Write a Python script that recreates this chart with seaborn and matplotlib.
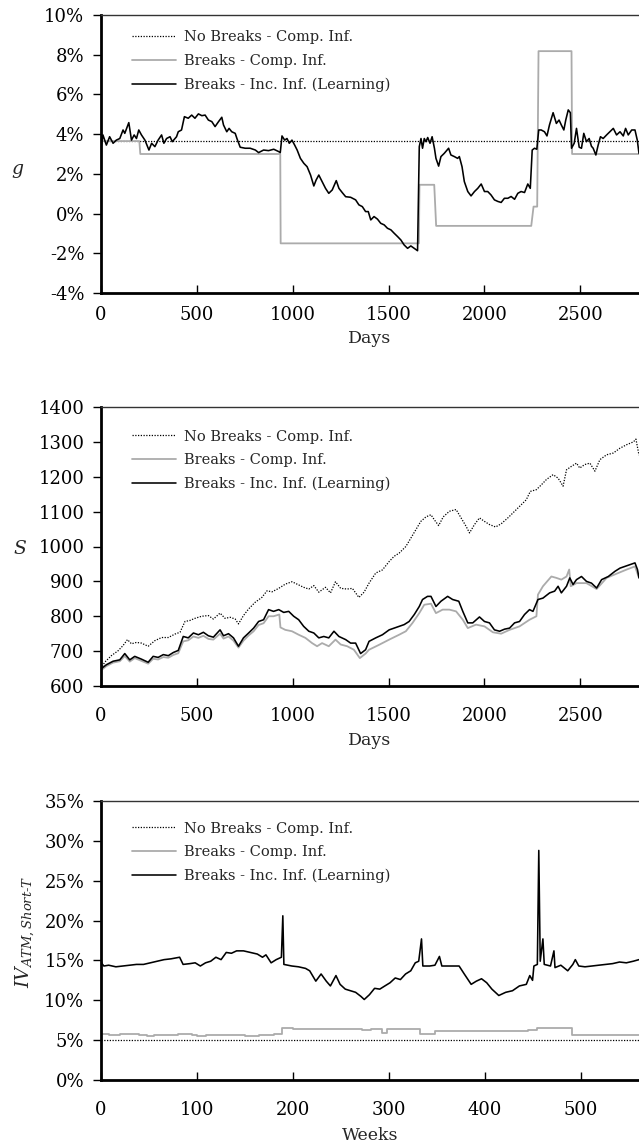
import numpy as np
import pandas as pd
import matplotlib
matplotlib.use("Agg")
import matplotlib.pyplot as plt
from matplotlib.ticker import FuncFormatter, FixedLocator
import seaborn as sns

# ---------------- data ----------------
legend_labels = ["No Breaks - Comp. Inf.", "Breaks - Comp. Inf.", "Breaks - Inc. Inf. (Learning)"]

# Panel 1: g (%)
g_nb_days = [0, 2806]
g_nb_vals = [3.65, 3.65]

g_cb_days = [0, 200, 205, 935, 937, 1658, 1661, 1738, 1748, 2244, 2256, 2275, 2282, 2454, 2457, 2806]
g_cb_vals = [3.65, 3.65, 3.0, 3.0, -1.5, -1.5, 1.45, 1.45, -0.62, -0.62, 0.35, 0.35, 8.18, 8.18, 3.0, 3.0]

g_ln_days = [0, 10, 28, 45, 63, 80, 98, 115, 124, 145, 159, 173, 185, 197, 211, 229, 250, 264, 281, 298,
             316, 328, 342, 360, 372, 394, 403, 420, 435, 455, 473, 490, 508, 526, 543, 560, 578, 595, 613, 630,
             639, 656, 668, 682, 700, 709, 726, 752, 778, 805, 822, 848, 874, 901, 927, 935, 944, 958, 970, 982,
             996, 1010, 1023, 1040, 1058, 1075, 1093, 1110, 1122, 1136, 1153, 1171, 1188, 1206, 1227, 1241, 1258, 1276, 1302, 1328,
             1345, 1363, 1380, 1394, 1407, 1424, 1442, 1459, 1477, 1494, 1512, 1529, 1547, 1564, 1581, 1599, 1616, 1634, 1651, 1660,
             1669, 1677, 1686, 1695, 1704, 1716, 1727, 1739, 1747, 1761, 1773, 1790, 1813, 1825, 1843, 1860, 1869, 1883, 1895, 1913,
             1930, 1948, 1965, 1983, 2000, 2017, 2034, 2052, 2070, 2087, 2104, 2122, 2139, 2157, 2174, 2191, 2209, 2226, 2239, 2249,
             2261, 2273, 2283, 2296, 2313, 2326, 2339, 2358, 2375, 2389, 2401, 2414, 2424, 2437, 2448, 2454, 2468, 2480, 2494, 2506,
             2518, 2532, 2546, 2558, 2567, 2581, 2593, 2605, 2619, 2637, 2654, 2672, 2689, 2707, 2724, 2736, 2750, 2768, 2785, 2797,
             2806]
g_ln_vals = [3.29, 3.96, 3.45, 3.87, 3.54, 3.70, 3.78, 4.21, 4.04, 4.58, 3.70, 3.96, 3.78, 4.21, 3.96, 3.70, 3.20, 3.54, 3.37, 3.70,
             3.96, 3.54, 3.78, 3.87, 3.62, 3.87, 4.12, 4.21, 4.88, 4.80, 4.96, 4.80, 5.02, 4.93, 4.96, 4.71, 4.63, 4.38, 4.63, 4.85,
             4.46, 4.12, 4.29, 4.12, 4.04, 3.78, 3.34, 3.29, 3.29, 3.20, 3.07, 3.20, 3.17, 3.24, 3.12, 3.07, 3.91, 3.70, 3.78, 3.54,
             3.70, 3.45, 3.20, 2.78, 2.53, 2.36, 1.94, 1.39, 1.69, 1.94, 1.61, 1.27, 1.02, 1.19, 1.66, 1.27, 1.06, 0.85, 0.82, 0.69,
             0.44, 0.35, 0.10, 0.10, -0.32, -0.15, -0.28, -0.49, -0.57, -0.74, -0.82, -0.99, -1.16, -1.33, -1.58, -1.75, -1.63, -1.75, -1.87, 3.37,
             3.78, 3.29, 3.78, 3.62, 3.83, 3.54, 3.87, 3.29, 2.78, 2.39, 2.87, 3.03, 3.29, 2.95, 2.87, 2.78, 2.87, 2.36, 1.61, 1.11,
             0.89, 1.11, 1.27, 1.49, 1.11, 1.11, 0.94, 0.69, 0.61, 0.56, 0.77, 0.77, 0.86, 0.72, 1.02, 1.11, 1.06, 1.49, 1.27, 3.20,
             3.29, 3.24, 4.21, 4.21, 4.12, 3.91, 4.46, 5.08, 4.54, 4.71, 4.46, 4.21, 4.71, 5.22, 5.08, 3.29, 3.54, 4.29, 3.34, 3.29,
             4.04, 3.62, 3.78, 3.39, 3.29, 2.95, 3.45, 3.87, 3.78, 3.96, 4.12, 4.29, 3.96, 4.12, 3.91, 4.29, 3.96, 4.21, 4.21, 3.70,
             3.03]

# Panel 2: S
s_nb_days = [0, 19, 54, 89, 115, 138, 159, 185, 211, 246, 281, 316, 351, 386, 412, 438, 464, 490, 525, 560,
             586, 621, 647, 674, 700, 717, 743, 770, 804, 839, 866, 892, 927, 961, 996, 1023, 1057, 1084, 1110, 1136,
             1171, 1197, 1223, 1250, 1284, 1311, 1345, 1372, 1398, 1433, 1468, 1503, 1529, 1555, 1590, 1616, 1642, 1668, 1695, 1721,
             1738, 1761, 1785, 1817, 1852, 1878, 1904, 1922, 1948, 1974, 2000, 2026, 2058, 2087, 2122, 2148, 2183, 2218, 2239, 2271,
             2297, 2323, 2358, 2384, 2410, 2428, 2454, 2480, 2497, 2523, 2550, 2576, 2602, 2637, 2672, 2707, 2742, 2777, 2790, 2806]
s_nb_vals = [649, 668, 687, 701, 716, 733, 721, 725, 723, 714, 730, 739, 739, 749, 754, 785, 788, 794, 800, 802,
             792, 809, 794, 797, 792, 778, 802, 821, 840, 854, 873, 870, 880, 892, 899, 892, 883, 878, 888, 869,
             883, 867, 899, 880, 878, 880, 854, 869, 895, 924, 933, 957, 972, 981, 1000, 1024, 1048, 1072, 1085, 1091,
             1077, 1060, 1085, 1101, 1106, 1082, 1058, 1039, 1063, 1082, 1072, 1063, 1056, 1065, 1082, 1096, 1115, 1134, 1158, 1163,
             1177, 1192, 1206, 1196, 1173, 1220, 1230, 1239, 1225, 1235, 1239, 1216, 1249, 1263, 1268, 1282, 1292, 1300, 1308, 1262]

s_cb_days = [0, 28, 63, 98, 124, 150, 176, 211, 246, 272, 298, 325, 351, 377, 403, 429, 455, 482, 508, 534,
             560, 586, 621, 639, 665, 691, 717, 743, 770, 796, 822, 848, 874, 900, 930, 936, 961, 996, 1031, 1066,
             1101, 1127, 1153, 1188, 1223, 1250, 1284, 1319, 1350, 1380, 1398, 1450, 1503, 1555, 1590, 1625, 1660, 1686, 1721, 1747,
             1782, 1817, 1852, 1887, 1913, 1956, 2000, 2044, 2087, 2131, 2183, 2235, 2271, 2279, 2305, 2349, 2375, 2401, 2428, 2442,
             2450, 2480, 2532, 2585, 2637, 2689, 2742, 2785, 2806]
s_cb_vals = [645, 657, 667, 671, 686, 670, 680, 672, 664, 678, 676, 683, 681, 689, 694, 728, 731, 742, 738, 744,
             735, 733, 750, 736, 742, 730, 710, 730, 745, 757, 775, 780, 800, 800, 805, 768, 761, 757, 747, 738,
             723, 714, 723, 714, 733, 719, 714, 704, 680, 693, 704, 718, 733, 747, 757, 781, 809, 833, 836, 809,
             819, 819, 814, 790, 766, 776, 771, 754, 750, 761, 771, 790, 800, 862, 886, 914, 910, 905, 914, 934,
             886, 895, 895, 878, 910, 922, 934, 943, 910]

s_ln_days = [0, 28, 63, 98, 124, 150, 176, 211, 246, 272, 298, 325, 351, 377, 403, 429, 455, 482, 508, 534,
             560, 586, 621, 639, 665, 691, 717, 743, 770, 796, 822, 848, 874, 900, 927, 953, 979, 1005, 1031, 1057,
             1084, 1110, 1136, 1162, 1188, 1215, 1241, 1276, 1302, 1328, 1354, 1380, 1398, 1433, 1468, 1503, 1529, 1555, 1581, 1607,
             1634, 1660, 1677, 1703, 1721, 1747, 1773, 1808, 1834, 1866, 1887, 1913, 1939, 1974, 2000, 2026, 2052, 2079, 2105, 2131,
             2157, 2183, 2209, 2235, 2253, 2279, 2305, 2340, 2366, 2384, 2401, 2428, 2445, 2462, 2480, 2506, 2532, 2558, 2585, 2611,
             2646, 2681, 2707, 2733, 2759, 2785, 2798, 2806]
s_ln_vals = [649, 661, 671, 675, 693, 675, 685, 677, 668, 685, 682, 690, 687, 696, 702, 742, 738, 752, 747, 754,
             744, 740, 761, 744, 750, 738, 714, 738, 752, 766, 785, 790, 819, 814, 819, 811, 814, 800, 790, 771,
             757, 752, 738, 742, 738, 757, 742, 733, 723, 723, 693, 704, 728, 738, 747, 761, 766, 771, 776, 785,
             805, 828, 848, 857, 857, 828, 843, 857, 848, 843, 814, 781, 781, 798, 785, 781, 761, 757, 763, 766,
             781, 785, 805, 819, 814, 848, 852, 867, 872, 886, 867, 886, 910, 891, 905, 914, 900, 895, 881, 905,
             914, 929, 938, 943, 948, 953, 934, 910]

# Panel 3: IV (%)
iv_nb_wks = [0, 561]
iv_nb_vals = [5.0, 5.0]

iv_cb_wks = [0, 8, 20, 40, 48, 55, 80, 95, 100, 110, 130, 150, 165, 180, 189, 200, 215, 230, 245, 260,
             272, 282, 293, 298, 315, 333, 348, 370, 390, 410, 430, 445, 455, 491, 510, 530, 561]
iv_cb_vals = [5.8, 5.7, 5.75, 5.6, 5.5, 5.7, 5.75, 5.6, 5.5, 5.65, 5.7, 5.55, 5.7, 5.75, 6.5, 6.4, 6.35, 6.4, 6.35, 6.45,
              6.3, 6.4, 5.95, 6.4, 6.45, 5.8, 6.2, 6.15, 6.2, 6.1, 6.2, 6.3, 6.5, 5.7, 5.6, 5.7, 5.7]

iv_ln_wks = [0, 1, 3, 8, 15.5, 22.7, 29.9, 37, 44.3, 51.5, 58.6, 65.8, 73, 82, 85.6, 92.8, 98.2, 103.6, 109, 114.4,
             119.8, 125.2, 130.6, 136, 141.4, 148.6, 155.8, 163, 168.4, 172, 177.4, 182.7, 188.1, 189.6, 190.7, 199, 206, 213.3, 217.6, 224,
             229.5, 234.9, 239.2, 245, 249.3, 254.7, 260.1, 265.5, 270.9, 274.5, 279.9, 285.3, 290.7, 296, 301.4, 306.8, 312.2, 317.6, 323, 327.7,
             331.3, 334.2, 335.6, 342.8, 348.2, 352.9, 355.4, 364.4, 373.4, 378.8, 386, 391.4, 396.8, 402.2, 407.6, 414.8, 422, 429.1, 436.3, 443.5,
             447.1, 450, 451.4, 455, 456.5, 458, 460.8, 462.2, 468.7, 472.3, 473.4, 479.5, 486.7, 492, 494.6, 498.2, 504.7, 511.9, 519, 526.3,
             533.5, 540.7, 547.8, 555, 561]
iv_ln_vals = [15.0, 14.6, 14.3, 14.4, 14.2, 14.3, 14.4, 14.5, 14.5, 14.7, 14.9, 15.1, 15.2, 15.4, 14.5, 14.6, 14.7, 14.3, 14.7, 14.9,
              15.4, 15.1, 16.0, 15.9, 16.2, 16.2, 16.0, 15.8, 15.4, 15.7, 14.7, 15.1, 15.4, 20.6, 14.5, 14.3, 14.2, 14.0, 13.7, 12.4,
              13.3, 12.4, 11.8, 13.1, 12.0, 11.4, 11.2, 11.0, 10.5, 10.1, 10.7, 11.5, 11.4, 11.8, 12.2, 12.8, 12.6, 13.3, 13.7, 14.7,
              14.9, 17.7, 14.3, 14.3, 14.4, 15.5, 14.3, 14.3, 14.3, 13.3, 12.0, 12.4, 12.7, 12.2, 11.4, 10.6, 11.0, 11.2, 11.8, 12.0,
              13.1, 12.5, 14.3, 14.5, 28.8, 14.9, 17.7, 14.5, 14.3, 16.2, 14.1, 14.4, 13.7, 14.5, 15.1, 14.3, 14.2, 14.3, 14.4, 14.5,
              14.6, 14.8, 14.7, 14.9, 15.1]

# ---------------- style ----------------
sns.set_style("white")
plt.rcParams["font.family"] = ["DejaVu Serif"]
plt.rcParams["mathtext.fontset"] = "dejavuserif"

W, H = 639, 1147
fig = plt.figure(figsize=(W / 100, H / 100), dpi=100)

def axes_px(top, bottom, left=101, right=639):
    return fig.add_axes([left / W, 1 - bottom / H, (right - left) / W, (bottom - top) / H])

ax1 = axes_px(15, 293)
ax2 = axes_px(407, 686)
ax3 = axes_px(801, 1080)

DOT = dict(color="black", lw=0.9, linestyle=(0, (1, 1.2)))
GRAY = dict(color="#ababab", lw=1.3)
BLACK = dict(color="black", lw=1.15)

def draw(ax, x0, y0, x1, y1, x2, y2, steps_gray=False):
    sns.lineplot(x=x0, y=y0, ax=ax, estimator=None, sort=False, label=legend_labels[0], **DOT)
    kw = dict(GRAY)
    if steps_gray:
        kw["drawstyle"] = "steps-post"
    sns.lineplot(x=x1, y=y1, ax=ax, estimator=None, sort=False, label=legend_labels[1], **kw)
    sns.lineplot(x=x2, y=y2, ax=ax, estimator=None, sort=False, label=legend_labels[2], **BLACK)

draw(ax1, g_nb_days, g_nb_vals, g_cb_days, g_cb_vals, g_ln_days, g_ln_vals)
draw(ax2, s_nb_days, s_nb_vals, s_cb_days, s_cb_vals, s_ln_days, s_ln_vals)
draw(ax3, iv_nb_wks, iv_nb_vals, iv_cb_wks, iv_cb_vals, iv_ln_wks, iv_ln_vals, steps_gray=True)

pct = FuncFormatter(lambda v, p: f"{v:.0f}%")

def style(ax, xlim, ylim, yticks, xticks, xlabel, ylabel, ylabel_rot, ylabel_xy, yfmt=None,
          legend_top=22, xpad=9, xlabelpad=4):
    ax.set_xlim(*xlim)
    ax.set_ylim(*ylim)
    ax.yaxis.set_major_locator(FixedLocator(yticks))
    ax.xaxis.set_major_locator(FixedLocator(xticks))
    if yfmt is not None:
        ax.yaxis.set_major_formatter(yfmt)
    for s in ["left", "bottom"]:
        ax.spines[s].set_linewidth(2.0)
        ax.spines[s].set_color("black")
    ax.spines["top"].set_linewidth(1.0)
    ax.spines["top"].set_color("#333333")
    ax.spines["right"].set_visible(False)
    ax.tick_params(axis="y", direction="out", length=6, width=1, pad=6, labelsize=13, left=True, colors="black")
    ax.tick_params(axis="x", direction="in", length=6, width=1, pad=xpad, labelsize=13, bottom=True, colors="black")
    ax.set_xlabel(xlabel, fontsize=12.5, labelpad=xlabelpad)
    ax.set_ylabel(ylabel, fontsize=13.5, rotation=ylabel_rot, va="center", ha="center")
    ax.yaxis.set_label_coords(*ylabel_xy)
    ax.grid(False)
    ax.set_facecolor("white")
    ax.legend(loc="upper left", bbox_to_anchor=(31 / 538, 1 - legend_top / 278), frameon=False,
              fontsize=10.5, handlelength=3.0, handletextpad=0.55, labelspacing=0.66,
              borderpad=0, borderaxespad=0)

style(ax1, (0, 2806), (-4, 10), list(range(-4, 11, 2)), [0, 500, 1000, 1500, 2000, 2500],
      "Days", "$g$", 0, (-0.155, 0.44), pct, legend_top=15, xpad=9, xlabelpad=5)
style(ax2, (0, 2806), (600, 1400), list(range(600, 1401, 100)), [0, 500, 1000, 1500, 2000, 2500],
      "Days", "$S$", 0, (-0.15, 0.49), None, legend_top=22.5, xpad=15, xlabelpad=5)
style(ax3, (0, 561), (0, 35), list(range(0, 36, 5)), [0, 100, 200, 300, 400, 500],
      "Weeks", r"$IV_{ATM,Short\text{-}T}$", 90, (-0.14, 0.53), pct, legend_top=20.5, xpad=15, xlabelpad=6)

fig.savefig("out.png", dpi=100, facecolor="white")
